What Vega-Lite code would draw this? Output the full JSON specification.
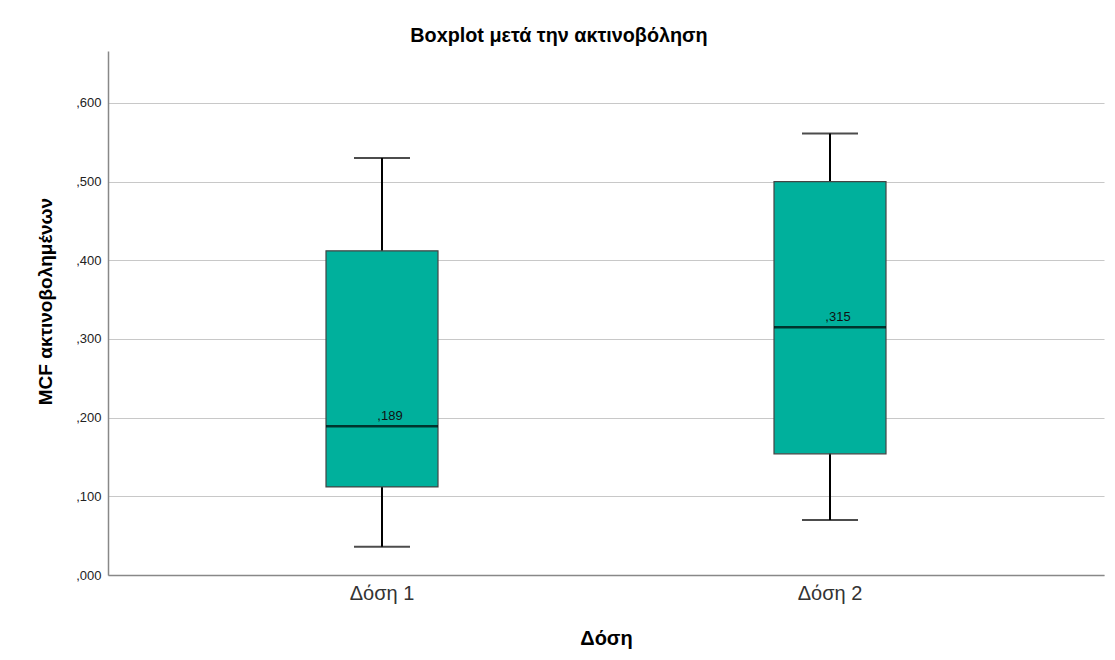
{
  "$schema": "https://vega.github.io/schema/vega-lite/v6.json",
  "width": 996,
  "height": 524,
  "autosize": {"type": "none"},
  "padding": {"left": 108, "top": 51, "right": 11, "bottom": 85},
  "background": "white",
  "title": {
    "text": "Boxplot μετά την ακτινοβόληση",
    "font": "Liberation Sans",
    "fontSize": 19.8,
    "fontWeight": "bold",
    "color": "#000000",
    "anchor": "middle",
    "dx": -47,
    "offset": 5
  },
  "data": {
    "values": [
      {"dose": "Δόση 1", "min": 0.036, "q1": 0.112, "median": 0.189, "q3": 0.412, "max": 0.530, "label": ",189"},
      {"dose": "Δόση 2", "min": 0.070, "q1": 0.154, "median": 0.315, "q3": 0.500, "max": 0.561, "label": ",315"}
    ]
  },
  "config": {
    "view": {"stroke": null},
    "font": "Liberation Sans"
  },
  "encoding": {
    "x": {
      "field": "dose",
      "type": "nominal",
      "sort": null,
      "scale": {"paddingInner": 0, "paddingOuter": 0.1116},
      "axis": {
        "title": "Δόση",
        "titleFont": "Liberation Sans",
        "titleFontSize": 20,
        "titleFontWeight": "bold",
        "titleColor": "#000000",
        "titlePadding": 25,
        "labelFont": "Liberation Sans",
        "labelFontSize": 20,
        "labelColor": "#333333",
        "labelAngle": 0,
        "labelPadding": 8,
        "ticks": false,
        "domainColor": "#888888",
        "domainWidth": 1.5,
        "grid": false
      }
    }
  },
  "layer": [
    {
      "mark": {"type": "rule", "color": "#000000", "strokeWidth": 2},
      "encoding": {
        "y": {
          "field": "min",
          "type": "quantitative",
          "scale": {"domain": [0, 0.666], "nice": false, "zero": true},
          "axis": {
            "title": "MCF ακτινοβολημένων",
            "titleFont": "Liberation Sans",
            "titleFontSize": 19,
            "titleFontWeight": "bold",
            "titleColor": "#000000",
            "titlePadding": 20,
            "titleY": 250,
            "values": [0, 0.1, 0.2, 0.3, 0.4, 0.5, 0.6],
            "labelExpr": "replace(format(datum.value, '.3f'), '0.', ',')",
            "labelFont": "Liberation Sans",
            "labelFontSize": 13,
            "labelColor": "#222222",
            "labelPadding": 7,
            "ticks": false,
            "domainColor": "#888888",
            "domainWidth": 1.5,
            "grid": true,
            "gridColor": "#c8c8c8",
            "gridWidth": 1.2
          }
        },
        "y2": {"field": "max"}
      }
    },
    {
      "mark": {"type": "tick", "color": "#000000", "thickness": 2, "size": 56},
      "encoding": {"y": {"field": "min", "type": "quantitative"}}
    },
    {
      "mark": {"type": "tick", "color": "#000000", "thickness": 2, "size": 56},
      "encoding": {"y": {"field": "max", "type": "quantitative"}}
    },
    {
      "mark": {"type": "bar", "size": 112, "fill": "#00b09c", "stroke": "#444444", "strokeWidth": 1.2},
      "encoding": {
        "y": {"field": "q1", "type": "quantitative"},
        "y2": {"field": "q3"}
      }
    },
    {
      "mark": {"type": "tick", "color": "#000000", "thickness": 2.5, "size": 112},
      "encoding": {"y": {"field": "median", "type": "quantitative"}}
    },
    {
      "mark": {"type": "text", "font": "Liberation Sans", "fontSize": 13, "color": "#111111", "baseline": "bottom", "align": "center", "dx": 8, "dy": -3},
      "encoding": {
        "y": {"field": "median", "type": "quantitative"},
        "text": {"field": "label"}
      }
    }
  ]
}
